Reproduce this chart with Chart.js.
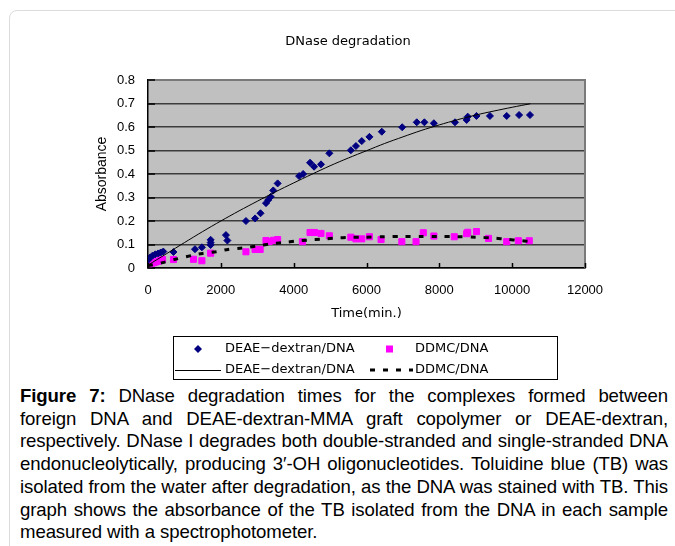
<!DOCTYPE html>
<html lang="en">
<head>
  <meta charset="UTF-8">
  <title>DNase degradation</title>
  <script src="https://cdn.jsdelivr.net/npm/chart.js"></script>
  <style>
    body {
      margin: 0;
      width: 675px;
      height: 546px;
      overflow: hidden;
      position: relative;
      background: #fff;
      font-family: "Liberation Sans", Arial, sans-serif;
    }
    .frame {
      position: absolute;
      left: 9px;
      top: 10px;
      width: 720px;
      height: 600px;
      border: 1px solid #dcdcdc;
      border-radius: 8px;
    }
    #chart {
      position: absolute;
      left: 0;
      top: 0;
    }
    .caption {
      position: absolute;
      left: 20px;
      top: 385px;
      width: 648px;
      font-size: 18.6px;
      letter-spacing: -0.1px;
      line-height: 22.7px;
      color: #000;
    }
    .caption div {
      white-space: nowrap;
      text-align: justify;
      text-align-last: justify;
    }
    .caption div.last {
      text-align-last: left;
    }
  </style>
</head>
<body>
  <div class="frame"></div>
  <canvas id="chart" width="675" height="385"></canvas>
  <div class="caption">
    <div><b>Figure 7:</b> DNase degradation times for the complexes formed between</div>
    <div>foreign DNA and DEAE-dextran-MMA graft copolymer or DEAE-dextran,</div>
    <div>respectively. DNase I degrades both double-stranded and single-stranded DNA</div>
    <div>endonucleolytically, producing 3&#8242;-OH oligonucleotides. Toluidine blue (TB) was</div>
    <div>isolated from the water after degradation, as the DNA was stained with TB. This</div>
    <div>graph shows the absorbance of the TB isolated from the DNA in each sample</div>
    <div class="last">measured with a spectrophotometer.</div>
  </div>

  <script>
    // tick labels
    const xTicks = [0, 2000, 4000, 6000, 8000, 10000, 12000];
    const yTicks = [0, 0.1, 0.2, 0.3, 0.4, 0.5, 0.6, 0.7, 0.8];

    // DEAE-dextran/DNA measured points
    const deaeTime = [0, 60, 120, 200, 280, 350, 420, 700, 1290, 1480, 1720, 1720, 1720, 2140, 2180,
      2690, 2940, 3090, 3240, 3300, 3370, 3440, 3560, 4150, 4260, 4450, 4560, 4750, 4980,
      5570, 5710, 5870, 6080, 6420, 6980, 7380, 7590, 7850, 8430, 8750, 8780, 9020,
      9390, 9850, 10190, 10490];
    const deaeAbs = [0.034, 0.045, 0.052, 0.058, 0.062, 0.066, 0.070, 0.068, 0.080, 0.088, 0.120, 0.108, 0.098, 0.140, 0.117,
      0.200, 0.211, 0.233, 0.276, 0.289, 0.303, 0.330, 0.360, 0.391, 0.400, 0.448, 0.431, 0.441, 0.488,
      0.501, 0.519, 0.540, 0.558, 0.580, 0.599, 0.620, 0.620, 0.616, 0.620, 0.630, 0.644, 0.647,
      0.647, 0.647, 0.651, 0.651];

    // DDMC/DNA measured points
    const ddmcTime = [0, 50, 100, 160, 220, 280, 340, 400, 700, 1250, 1480, 1720, 2690, 2940, 3080,
      3240, 3330, 3450, 3560, 4240, 4450, 4570, 4750, 4980, 5570, 5710, 5870, 6080, 6400,
      6970, 7360, 7560, 7850, 8410, 8750, 8780, 9020, 9350, 9850, 10170, 10470];
    const ddmcAbs = [0.013, 0.017, 0.020, 0.023, 0.026, 0.029, 0.032, 0.036, 0.036, 0.037, 0.031, 0.063, 0.069, 0.079, 0.079,
      0.117, 0.113, 0.118, 0.121, 0.112, 0.151, 0.151, 0.147, 0.137, 0.131, 0.124, 0.124, 0.133, 0.121,
      0.112, 0.112, 0.150, 0.136, 0.133, 0.146, 0.152, 0.155, 0.126, 0.112, 0.116, 0.116];

    // trend lines as drawn in the figure
    const deaeTrendTime = [0, 500, 1000, 1500, 2000, 2500, 3000, 3500, 4000, 4500, 5000, 5500,
      6000, 6500, 7000, 7500, 8000, 8500, 9000, 9500, 10000, 10500];
    const deaeTrendAbs = [0.012, 0.060, 0.108, 0.155, 0.200, 0.243, 0.284, 0.324, 0.362, 0.399, 0.435, 0.468,
      0.499, 0.530, 0.558, 0.585, 0.609, 0.631, 0.651, 0.668, 0.684, 0.699];

    const ddmcTrendTime = [0, 400, 750, 1250, 1500, 1900, 2200, 2600, 3000, 3350, 3700, 4100, 4400,
      4800, 5200, 5500, 5900, 6500, 7000, 7500, 8000, 8500, 9000, 9500, 9850, 10200, 10450];
    const ddmcTrendAbs = [0.010, 0.023, 0.037, 0.055, 0.062, 0.070, 0.079, 0.085, 0.094, 0.102, 0.108, 0.115, 0.119,
      0.123, 0.128, 0.130, 0.131, 0.133, 0.134, 0.134, 0.134, 0.133, 0.131, 0.127, 0.122, 0.117, 0.113];

    const toXY = (xs, ys) => xs.map((x, i) => ({ x: x, y: ys[i] }));

    const gothic = '"DejaVu Sans", "Noto Sans", sans-serif';
    const arial = '"Liberation Sans", Arial, sans-serif';

    // grey plot area, border, inner tick marks, title and legend box
    const excelLook = {
      id: 'excelLook',
      beforeDraw(chart) {
        const a = chart.chartArea;
        const ctx = chart.ctx;
        ctx.save();
        ctx.fillStyle = '#c0c0c0';
        ctx.fillRect(a.left, a.top, a.right - a.left, a.bottom - a.top);
        ctx.restore();
      },
      afterDraw(chart) {
        const a = chart.chartArea;
        const ctx = chart.ctx;
        const xs = chart.scales.x, ys = chart.scales.y;
        ctx.save();

        // plot border top / right
        ctx.strokeStyle = '#7a7a7a';
        ctx.lineWidth = 2;
        ctx.beginPath();
        ctx.moveTo(a.left, a.top);
        ctx.lineTo(a.right, a.top);
        ctx.lineTo(a.right, a.bottom);
        ctx.stroke();

        // tick marks pointing inward
        ctx.strokeStyle = '#000';
        ctx.lineWidth = 1.5;
        ctx.beginPath();
        yTicks.forEach(v => {
          const py = Math.round(ys.getPixelForValue(v));
          ctx.moveTo(a.left, py);
          ctx.lineTo(a.left + 7, py);
        });
        xTicks.forEach(v => {
          const px = Math.round(xs.getPixelForValue(v)) + 0.5;
          ctx.moveTo(px, a.bottom);
          ctx.lineTo(px, a.bottom - 5);
        });
        ctx.stroke();

        // title
        ctx.fillStyle = '#000';
        ctx.font = '13px ' + gothic;
        ctx.textAlign = 'center';
        ctx.textBaseline = 'middle';
        ctx.fillText('DNase degradation', 348, 42);

        // legend
        const bx = 173.5, by = 336.5, bw = 384, bh = 43;
        ctx.fillStyle = '#fff';
        ctx.fillRect(bx, by, bw, bh);
        ctx.strokeStyle = '#000';
        ctx.lineWidth = 1;
        ctx.strokeRect(bx, by, bw, bh);

        const ds = chart.data.datasets;
        const row1 = 349, row2 = 370;
        ctx.font = '13px ' + gothic;
        ctx.textAlign = 'left';

        // diamond
        ctx.fillStyle = ds[0].backgroundColor;
        ctx.beginPath();
        ctx.moveTo(198, row1 - 4);
        ctx.lineTo(202, row1);
        ctx.lineTo(198, row1 + 4);
        ctx.lineTo(194, row1);
        ctx.closePath();
        ctx.fill();
        // square
        ctx.fillStyle = ds[1].backgroundColor;
        ctx.fillRect(386, row1 - 3.5, 7, 7);
        // solid line
        ctx.strokeStyle = '#000';
        ctx.lineWidth = 1;
        ctx.beginPath();
        ctx.moveTo(175, row2 + 0.5);
        ctx.lineTo(221, row2 + 0.5);
        ctx.stroke();
        // dashed line
        ctx.lineWidth = 3;
        ctx.setLineDash(ds[3].borderDash);
        ctx.beginPath();
        ctx.moveTo(370, row2);
        ctx.lineTo(413, row2);
        ctx.stroke();
        ctx.setLineDash([]);

        ctx.fillStyle = '#000';
        ctx.fillText(ds[0].label, 225, row1);
        ctx.fillText(ds[1].label, 415, row1);
        ctx.fillText(ds[2].label, 225, row2);
        ctx.fillText(ds[3].label, 415, row2);

        ctx.restore();
      }
    };

    new Chart(document.getElementById('chart'), {
      type: 'scatter',
      data: {
        datasets: [
          {
            label: 'DEAE\u2212dextran/DNA',
            data: toXY(deaeTime, deaeAbs),
            pointStyle: 'rectRot',
            pointRadius: 3.5,
            borderWidth: 1,
            backgroundColor: '#000080',
            borderColor: '#000080',
            order: 2
          },
          {
            label: 'DDMC/DNA',
            data: toXY(ddmcTime, ddmcAbs),
            pointStyle: 'rect',
            pointRadius: 4.3,
            borderWidth: 1,
            backgroundColor: '#ff00ff',
            borderColor: '#ff00ff',
            order: 3
          },
          {
            label: 'DEAE\u2212dextran/DNA',
            data: toXY(deaeTrendTime, deaeTrendAbs),
            showLine: true,
            pointRadius: 0,
            borderColor: '#000',
            borderWidth: 1,
            tension: 0.3,
            order: 1
          },
          {
            label: 'DDMC/DNA',
            data: toXY(ddmcTrendTime, ddmcTrendAbs),
            showLine: true,
            pointRadius: 0,
            borderColor: '#000',
            borderWidth: 3,
            borderDash: [5, 8],
            tension: 0.3,
            order: 0
          }
        ]
      },
      options: {
        responsive: false,
        animation: false,
        devicePixelRatio: 1,
        layout: { padding: { left: 90, right: 90, top: 80, bottom: 57 } },
        plugins: {
          legend: { display: false },
          tooltip: { enabled: false }
        },
        scales: {
          x: {
            type: 'linear',
            min: 0,
            max: 12000,
            afterBuildTicks: s => { s.ticks = xTicks.map(v => ({ value: v })); },
            afterFit: s => { s.height = 60; },
            grid: { display: false, drawTicks: false },
            border: { display: true, color: '#000', width: 1.5 },
            ticks: {
              padding: 15,
              color: '#000',
              maxRotation: 0,
              autoSkip: false,
              font: { family: arial, size: 13 },
              callback: v => String(v)
            },
            title: {
              display: true,
              text: 'Time(min.)',
              color: '#000',
              font: { family: gothic, size: 13 },
              padding: { top: 0, bottom: 7 }
            }
          },
          y: {
            min: 0,
            max: 0.8,
            afterBuildTicks: s => { s.ticks = yTicks.map(v => ({ value: v })); },
            afterFit: s => { s.width = 58; },
            grid: { color: '#3c3c3c', lineWidth: 1.5, drawTicks: false },
            border: { display: true, color: '#000', width: 1.5 },
            ticks: {
              padding: 13,
              color: '#000',
              font: { family: arial, size: 13 },
              callback: v => v === 0 ? '0' : v.toFixed(1)
            },
            title: {
              display: true,
              text: 'Absorbance',
              color: '#000',
              font: { family: arial, size: 14 },
              padding: { top: 4, bottom: 0 }
            }
          }
        }
      },
      plugins: [excelLook]
    });
  </script>
</body>
</html>
